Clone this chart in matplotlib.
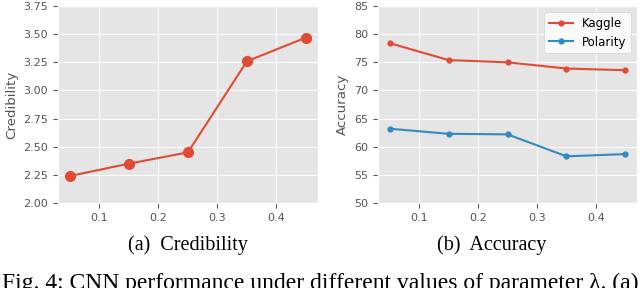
import matplotlib
matplotlib.use('Agg')
from matplotlib import pyplot as plt

plt.style.use('ggplot')
plt.rcParams['font.size'] = 8

lam = [0.05, 0.15, 0.25, 0.35, 0.45]
credibility = [2.24, 2.35, 2.45, 3.26, 3.47]
kaggle = [78.4, 75.4, 75.0, 73.9, 73.6]
polarity = [63.2, 62.3, 62.2, 58.3, 58.7]

fig = plt.figure(figsize=(6.4, 2.88), dpi=100)

ax1 = fig.add_axes([0.0906, 0.295, 0.406, 0.684])
ax1.plot(lam, credibility, color='C0', marker='o', markersize=7, lw=1.5)
ax1.set_ylim(2.0, 3.75)
ax1.set_yticks([2.0, 2.25, 2.5, 2.75, 3.0, 3.25, 3.5, 3.75])
ax1.set_xticks([0.1, 0.2, 0.3, 0.4])
ax1.set_ylabel('Credibility')

ax2 = fig.add_axes([0.5906, 0.295, 0.405, 0.684])
ax2.plot(lam, kaggle, color='C0', marker='o', markersize=3.5, lw=1.5, label='Kaggle')
ax2.plot(lam, polarity, color='C1', marker='o', markersize=3.5, lw=1.5, label='Polarity')
ax2.set_ylim(50, 85)
ax2.set_xticks([0.1, 0.2, 0.3, 0.4])
ax2.set_ylabel('Accuracy')
ax2.legend(loc='upper right', facecolor='white', framealpha=0.8, fontsize=8.5)

serif = 'Liberation Serif'
fig.text(0.294, 0.149, '(a)  Credibility', ha='center', va='center',
         family=serif, fontsize=14.5)
fig.text(0.769, 0.149, '(b)  Accuracy', ha='center', va='center',
         family=serif, fontsize=14.5)
fig.text(0.003, -0.005, 'Fig. 4: CNN performance under different values of parameter \u03bb. (a)',
         ha='left', va='baseline', family=serif, fontsize=17)

fig.savefig('out.png', dpi=100)
